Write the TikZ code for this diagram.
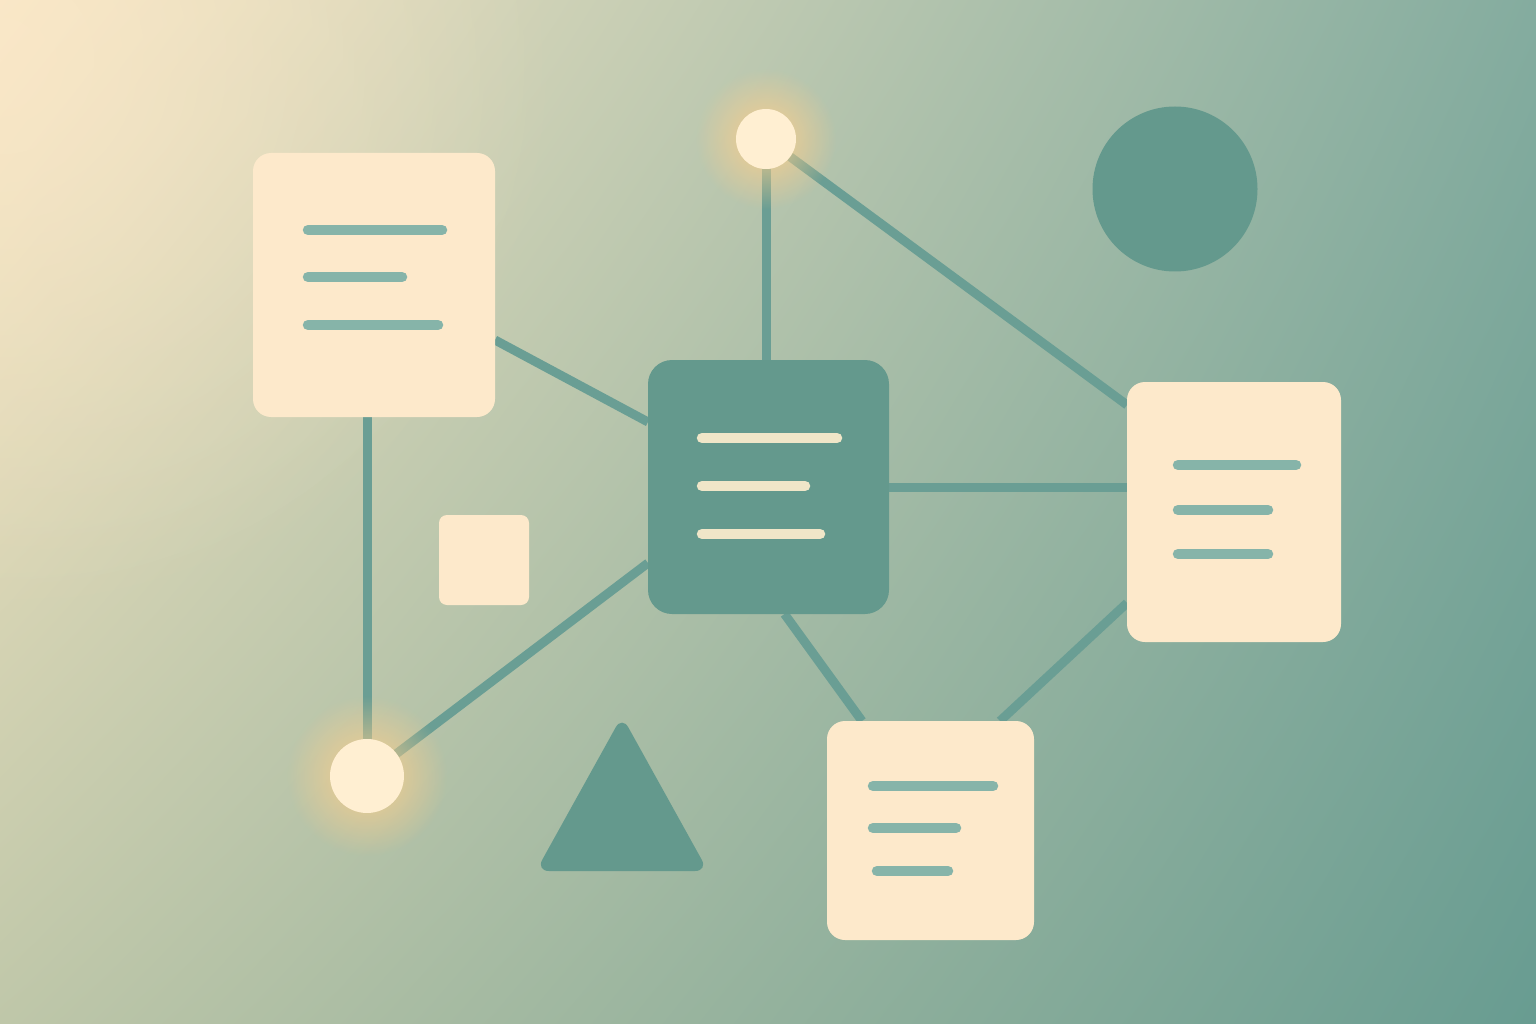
\documentclass[tikz,border=0pt]{standalone}
\usetikzlibrary{calc,fadings,shadings}
\definecolor{bgTL}{HTML}{F7E6C3}
\definecolor{bgTR}{HTML}{84AC9F}
\definecolor{bgBL}{HTML}{BFC7A9}
\definecolor{bgBR}{HTML}{689C91}
\definecolor{tealdark}{HTML}{64998D}
\definecolor{edgec}{HTML}{6A9E94}
\definecolor{creamc}{HTML}{FDE9CB}
\definecolor{docline}{HTML}{86B4A9}
\definecolor{lightline}{HTML}{F0E6C8}
\definecolor{glowc}{HTML}{FFCF8A}
\definecolor{dotc}{HTML}{FFEFD2}
\tikzfading[name=glowfade, inner color=transparent!0, outer color=transparent!100]
\pgfdeclarelayer{bg}
\pgfdeclarelayer{edges}
\pgfsetlayers{bg,edges,main}
\tikzset{
  docbox/.style={fill=creamc, rounded corners=18pt, inner sep=0pt, outer sep=0pt, draw=none},
  hubbox/.style={fill=tealdark, rounded corners=24pt, inner sep=0pt, outer sep=0pt, draw=none},
  dot/.style={circle, fill=dotc, inner sep=0pt, outer sep=0pt, draw=none},
  conn/.style={draw=edgec, line width=9pt},
  txtline/.style={draw=docline, line width=10.5pt, line cap=round},
  hubline/.style={draw=lightline, line width=10.5pt, line cap=round},
}
\begin{document}
\begin{tikzpicture}[x=1pt,y=-1pt]
\useasboundingbox (0,0) rectangle (1536,1024);
\begin{pgfonlayer}{bg}
  \shade[upper left=bgTL, upper right=bgTR, lower left=bgBL, lower right=bgBR] (0,0) rectangle (1536,1024);
  \begin{scope}
    \clip (0,0) rectangle (1536,1024);
    \fill[creamc, opacity=0.6, path fading=glowfade] (0,60) circle (560pt);
  \end{scope}
\end{pgfonlayer}

% nodes
\node[docbox, minimum width=242pt, minimum height=264pt] (d1) at (374,285) {};
\node[hubbox, minimum width=241pt, minimum height=254pt] (hub) at (768.5,487) {};
\node[docbox, minimum width=214pt, minimum height=260pt] (d2) at (1234,512) {};
\node[docbox, minimum width=207pt, minimum height=219pt] (d3) at (930.5,830.5) {};
\node[docbox, rounded corners=8pt, minimum width=90pt, minimum height=90pt] (sq) at (484,560) {};

% glows
\fill[glowc, opacity=0.9, path fading=glowfade] (766,139) circle (70pt);
\fill[glowc, opacity=0.9, path fading=glowfade] (367,776) circle (80pt);
\node[dot, minimum size=60pt] (tc) at (766,139) {};
\node[dot, minimum size=74pt] (bc) at (367,776) {};

% decorative shapes
\node[circle, fill=tealdark, minimum size=165pt, inner sep=0pt] (bigc) at (1175,189) {};
\fill[tealdark, rounded corners=13pt] (622,716) -- (708,871) -- (536,871) -- cycle;

% text lines
\draw[txtline] (308,230) -- (442,230);
\draw[txtline] (308,277) -- (402,277);
\draw[txtline] (308,325) -- (438,325);
\draw[hubline] (702,438) -- (837,438);
\draw[hubline] (702,486) -- (805,486);
\draw[hubline] (702,534) -- (820,534);
\draw[txtline] (1178,465) -- (1296,465);
\draw[txtline] (1178,510) -- (1268,510);
\draw[txtline] (1178,554) -- (1268,554);
\draw[txtline] (873,786) -- (993,786);
\draw[txtline] (873,828) -- (956,828);
\draw[txtline] (877,871) -- (948,871);

% connectors
\begin{pgfonlayer}{edges}
  \draw[conn] (tc) -- (tc |- hub.north);
  \draw[conn] (tc) -- ([yshift=-23pt]d2.north west);
  \draw[conn] ([yshift=-187pt]d1.north east) -- ([yshift=-62pt]hub.north west);
  \draw[conn] (hub.east) -- (hub.east -| d2.west);
  \draw[conn] ([yshift=-203pt]hub.north west) -- (bc);
  \draw[conn] (bc |- d1.south) -- (bc);
  \draw[conn] ([xshift=16pt]hub.south) -- ([xshift=35pt]d3.north west);
  \draw[conn] ([yshift=-221pt]d2.north west) -- ([xshift=173pt]d3.north west);
\end{pgfonlayer}
\end{tikzpicture}
\end{document}
